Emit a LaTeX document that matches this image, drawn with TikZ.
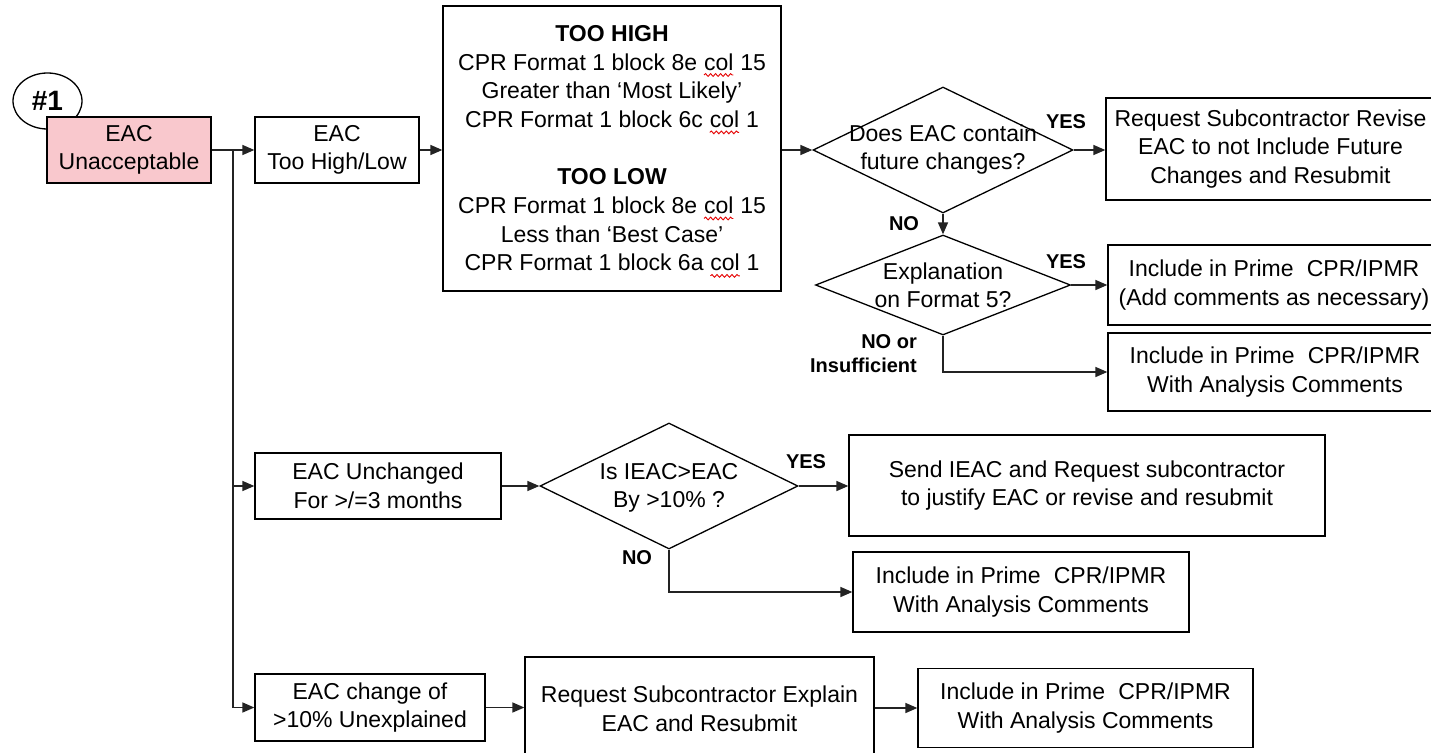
\documentclass[tikz,border=0pt]{standalone}
\usepackage{fontspec}
\setmainfont{Liberation Sans}
\usetikzlibrary{arrows.meta,shapes.geometric,decorations.pathmorphing}

\definecolor{alertpink}{RGB}{249,200,205}
\definecolor{wiregray}{RGB}{35,35,35}

% word with a red wavy underline
\newcommand\spell[1]{\tikz[baseline=(sw.base)]{%
  \node[shape=rectangle,draw=none,fill=none,inner sep=0pt,outer sep=0pt,
        minimum width=0pt,minimum height=0pt] (sw) {#1};%
  \draw[red!90!black,line width=0.9pt,decorate,
        decoration={snake,amplitude=1.4pt,segment length=5pt}]
    ([yshift=-5pt]sw.base west) -- ([yshift=-5pt]sw.base east);}}

\tikzset{
  boxnode/.style={draw=black,line width=1.3pt,fill=white,rectangle,
    inner sep=0pt,align=center,font=\fontsize{23}{28.5}\selectfont},
  dianode/.style={draw=black,line width=1.3pt,fill=white,diamond,inner sep=0pt},
  dtext/.style={align=center,inner sep=0pt,font=\fontsize{23}{28}\selectfont},
  tag/.style={inner sep=0pt,font=\bfseries\fontsize{20}{24}\selectfont},
  wire/.style={draw=wiregray,line width=1.5pt},
  arr/.style={wire,-{Triangle[length=12pt,width=10pt]}},
}

\begin{document}
\begin{tikzpicture}[x=1pt,y=-1pt]
\useasboundingbox[fill=white] (0,0) rectangle (1431,752);

% start marker and first decision chain
\node[draw=black,line width=1.3pt,fill=white,ellipse,minimum width=69,
      minimum height=56,inner sep=0pt,font=\bfseries\fontsize{28}{30}\selectfont]
      (start) at (47.5,101) {\#1};
\node[boxnode,fill=alertpink,minimum width=164,minimum height=66] (unacc) at (129,150)
      {EAC\\Unacceptable};
\node[boxnode,minimum width=164,minimum height=66] (toohl) at (337,150)
      {EAC\\Too High/Low};
\node[boxnode,minimum width=338,minimum height=285] (limits) at (612,148.5) {};
\node[align=center,inner sep=0pt,font=\fontsize{23}{28.7}\selectfont]
      (limitstext) at (612,151.5)
      {\textbf{TOO HIGH}\\
       CPR Format 1 block 8e \spell{col} 15\\
       Greater than ‘Most Likely’\\
       CPR Format 1 block 6c \spell{col} 1\\[28.7pt]
       \textbf{TOO LOW}\\
       CPR Format 1 block 8e \spell{col} 15\\
       Less than ‘Best Case’\\
       CPR Format 1 block 6a \spell{col} 1};

\node[dianode,minimum width=260,minimum height=126] (q1) at (943,150) {};
\node[dtext] (q1t) at (943,149.5) {Does EAC contain\\future changes?};
\node[boxnode,minimum width=329,minimum height=102] (revise) at (1270.5,149)
      {Request Subcontractor Revise\\EAC to not Include Future\\Changes and Resubmit};

\node[dianode,minimum width=255,minimum height=100] (q2) at (943,285) {};
\node[dtext] (q2t) at (943,285) {Explanation\\on Format 5?};
\node[boxnode,minimum width=332,minimum height=80] (addc) at (1274,285)
      {Include in Prime\hspace{0.3em} CPR/IPMR\\(Add comments as necessary)};
\node[boxnode,minimum width=334,minimum height=78] (anal1) at (1275,372)
      {Include in Prime\hspace{0.3em} CPR/IPMR\\With Analysis Comments};

% second branch
\node[boxnode,minimum width=246,minimum height=66] (unchg) at (378,486)
      {EAC Unchanged\\For >/=3 months};
\node[dianode,minimum width=258,minimum height=126] (q3) at (669,486) {};
\node[dtext] (q3t) at (669,487.5) {Is IEAC>EAC\\By >10\% ?};
\node[boxnode,minimum width=476,minimum height=101] (send) at (1087,485.5)
      {Send IEAC and Request subcontractor\\to justify EAC or revise and resubmit};
\node[boxnode,minimum width=336,minimum height=80] (anal2) at (1021,592)
      {Include in Prime\hspace{0.3em} CPR/IPMR\\With Analysis Comments};

% third branch
\node[boxnode,minimum width=230,minimum height=67] (chg) at (370,707.5)
      {EAC change of\\>10\% Unexplained};
\node[boxnode,minimum width=349,minimum height=104] (explain) at (699.5,709)
      {Request Subcontractor Explain\\EAC and Resubmit};
\node[boxnode,minimum width=335,minimum height=79] (anal3) at (1085.5,708)
      {Include in Prime\hspace{0.3em} CPR/IPMR\\With Analysis Comments};

% answer tags
\node[tag] (y1) at (1066,122) {YES};
\node[tag] (n1) at (904,224) {NO};
\node[tag] (y2) at (1066,262) {YES};
\node[tag,align=right,anchor=east] (n2) at (917,354) {NO or\\Insufficient};
\node[tag] (y3) at (806,462) {YES};
\node[tag] (n3) at (637,558) {NO};

% connectors
\coordinate (trunk) at (233,150);
\draw[arr] (unacc.east) -- (toohl.west);
\draw[arr] (trunk) |- (chg.west);
\draw[arr] (trunk |- unchg.west) -- (unchg.west);
\draw[arr] (toohl.east) -- (toohl.east -| limits.west);
\draw[arr] (limits.east |- q1.west) -- (q1.west);
\draw[arr] (q1.east) -- (q1.east -| revise.west);
\draw[arr] (q1.south) -- (q2.north);
\draw[arr] (q2.east) -- (q2.east -| addc.west);
\draw[arr] (q2.south) |- (anal1.west);
\draw[arr] (unchg.east) -- (unchg.east -| q3.west);
\draw[arr] (q3.east) -- (q3.east -| send.west);
\draw[arr] (q3.south) |- (anal2.west);
\draw[arr] (chg.east) -- (chg.east -| explain.west);
\draw[arr] (explain.east |- anal3.west) -- (anal3.west);
\end{tikzpicture}
\end{document}
